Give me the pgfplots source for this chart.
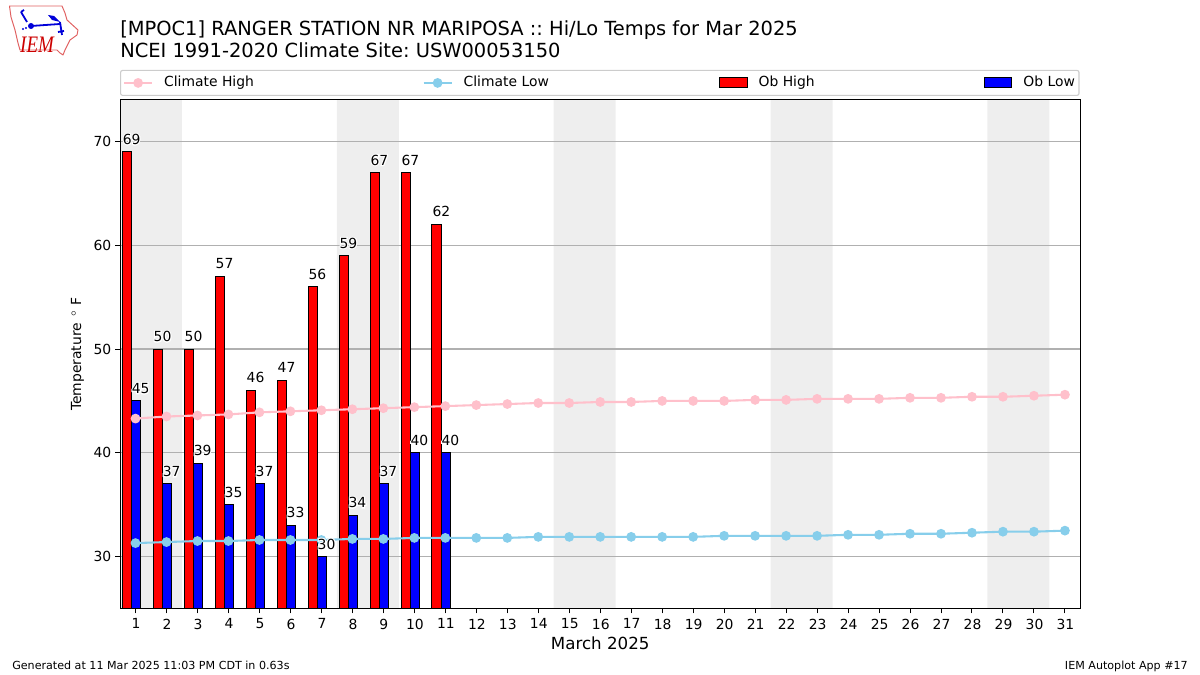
\documentclass[border=0pt]{standalone}
\usepackage{fontspec}
\setmainfont{DejaVu Sans}
\newfontfamily\logofont{Liberation Serif}
\usepackage{pgfplots}
\usepackage{pgfplotstable}
\pgfplotsset{compat=1.18}
\frenchspacing
\definecolor{band}{HTML}{EEEEEE}
\definecolor{gridc}{HTML}{B0B0B0}
\definecolor{legc}{HTML}{CCCCCC}
\definecolor{pinkc}{HTML}{FFC0CB}
\definecolor{skyc}{HTML}{87CEEB}
\definecolor{logor}{HTML}{E06060}
\newcommand{\hl}[1]{\leavevmode\rlap{\special{pdf:code 2 Tr 1 1 1 RG 1.6 w}\textcolor{white}{#1}\special{pdf:code 0 Tr 0 0 0 RG 0.4 w}}#1}
\pgfplotstableread{
day hi
1 69
2 50
3 50
4 57
5 46
6 47
7 56
8 59
9 67
10 67
11 62
}\obhigh
\pgfplotstableread{
day lo
1 45
2 37
3 39
4 35
5 37
6 33
7 30
8 34
9 37
10 40
11 40
}\oblow
\pgfplotstableread{
day hi lo
1 43.3 31.3
2 43.5 31.4
3 43.6 31.5
4 43.7 31.5
5 43.9 31.6
6 44.0 31.6
7 44.1 31.6
8 44.2 31.7
9 44.3 31.7
10 44.4 31.8
11 44.5 31.8
12 44.6 31.8
13 44.7 31.8
14 44.8 31.9
15 44.8 31.9
16 44.9 31.9
17 44.9 31.9
18 45.0 31.9
19 45.0 31.9
20 45.0 32.0
21 45.1 32.0
22 45.1 32.0
23 45.2 32.0
24 45.2 32.1
25 45.2 32.1
26 45.3 32.2
27 45.3 32.2
28 45.4 32.3
29 45.4 32.4
30 45.5 32.4
31 45.6 32.5
}\climate
\pgfplotsset{
  layers/chart/.define layer set={axis background,axis grid,main,axis ticks,axis lines,axis tick labels,axis descriptions,axis foreground}{},
  lineleg/.style={legend image code/.code={\draw[mark repeat=2,mark phase=2,sharp corners,##1] plot coordinates {(0bp,0bp)(10bp,0bp)(20bp,0bp)};}},
  barleg/.style={legend image code/.code={\draw[sharp corners,##1] (0bp,-3.6bp) rectangle (20bp,3.6bp);}},
  climstyle/.style={#1,line width=1.5bp,mark=*,mark size=3bp,mark options={draw=#1,fill=#1,line width=1bp}},
}
\begin{document}
\begin{tikzpicture}
\path (0bp,0bp) rectangle (864bp,486bp);
\begin{axis}[
  at={(86.4bp,47.9bp)}, anchor=south west,
  scale only axis, width=691.5bp, height=366.1bp,
  set layers=chart,
  xmin=0.5, xmax=31.5, ymin=25, ymax=74,
  xtick={1,...,31}, ytick={30,40,50,60,70},
  tick align=outside, tick pos=left, major tick length=3.5bp,
  tick style={black,line width=0.72bp},
  axis line style={line width=0.72bp},
  ymajorgrids, grid style={gridc,line width=0.8bp},
  /pgf/number format/assume math mode=true,
  ticklabel style={font=\fontsize{10bp}{12bp}\selectfont},
  x tick label style={inner sep=0pt,yshift=-3.7bp,xshift=0.4bp},
  y tick label style={inner sep=0pt,xshift=-2.6bp},
  xlabel={March 2025},
  xlabel style={font=\fontsize{12bp}{14bp}\selectfont,inner sep=0pt,anchor=base,at={(axis description cs:0.5,0)},yshift=-29.5bp},
  ylabel={Temperature\hspace{1.5bp}\ $^\circ\,$\hspace{1.5bp}F},
  ylabel style={font=\fontsize{10bp}{12bp}\selectfont,inner sep=0pt,anchor=base,at={(axis description cs:0,0.5)},yshift=28bp},
  legend columns=4,
  legend cell align=left,
  legend style={
    at={(axis description cs:0,1)}, anchor=south west, yshift=2.9bp,
    draw=legc, rounded corners=1.5bp, line width=0.8bp,
    font=\fontsize{10bp}{12bp}\selectfont,
    inner xsep=1.9bp, inner ysep=3.2bp,
    nodes={inner sep=1bp,text depth=2bp},
    /tikz/column 1/.style={column sep=7bp},
    /tikz/column 3/.style={column sep=7bp},
    /tikz/column 5/.style={column sep=7bp},
    /tikz/column 7/.style={column sep=7bp},
    /tikz/column 2/.style={column sep=120.5bp},
    /tikz/column 4/.style={column sep=121.3bp},
    /tikz/column 6/.style={column sep=120.6bp},
  },
]
% weekend bands
\addplot[on layer=axis background,fill=band,draw=none,forget plot] coordinates {(0.5,25)(2.5,25)(2.5,74)(0.5,74)(0.5,25)};
\addplot[on layer=axis background,fill=band,draw=none,forget plot] coordinates {(7.5,25)(9.5,25)(9.5,74)(7.5,74)(7.5,25)};
\addplot[on layer=axis background,fill=band,draw=none,forget plot] coordinates {(14.5,25)(16.5,25)(16.5,74)(14.5,74)(14.5,25)};
\addplot[on layer=axis background,fill=band,draw=none,forget plot] coordinates {(21.5,25)(23.5,25)(23.5,74)(21.5,74)(21.5,25)};
\addplot[on layer=axis background,fill=band,draw=none,forget plot] coordinates {(28.5,25)(30.5,25)(30.5,74)(28.5,74)(28.5,25)};
% legend
\addlegendimage{lineleg,climstyle=pinkc}
\addlegendentry{Climate High}
\addlegendimage{lineleg,climstyle=skyc}
\addlegendentry{Climate Low}
\addlegendimage{barleg,fill=red,draw=black,line width=0.72bp}
\addlegendentry{Ob High}
\addlegendimage{barleg,fill=blue,draw=black,line width=0.72bp}
\addlegendentry{Ob Low\hspace{2.1bp}}
% bars
\addplot[forget plot,ybar,bar width=0.3,bar shift=-0.28,fill=red,draw=black,line width=0.72bp] table[x=day,y=hi] {\obhigh};
\addplot[forget plot,ybar,bar width=0.3,bar shift=0.02,fill=blue,draw=black,line width=0.72bp] table[x=day,y=lo] {\oblow};
% climatology
\addplot[forget plot,climstyle=pinkc] table[x=day,y=hi] {\climate};
\addplot[forget plot,climstyle=skyc] table[x=day,y=lo] {\climate};
% value labels
\addplot[forget plot,ybar,bar width=0.3,bar shift=-0.28,draw=none,fill=none,
  nodes near coords={\hl{\pgfmathprintnumber{\pgfplotspointmeta}}},
  every node near coord/.style={black,font=\fontsize{10bp}{12bp}\selectfont,inner sep=0pt,anchor=south,xshift=-2.8bp,yshift=5.1bp}]
  table[x=day,y=hi] {\obhigh};
\addplot[forget plot,ybar,bar width=0.3,bar shift=0.02,draw=none,fill=none,
  nodes near coords={\hl{\pgfmathprintnumber{\pgfplotspointmeta}}},
  every node near coord/.style={black,font=\fontsize{10bp}{12bp}\selectfont,inner sep=0pt,anchor=south,xshift=3.7bp,yshift=5.1bp}]
  table[x=day,y=lo] {\oblow};
\end{axis}
\begin{scope}[shift={(0bp,486bp)},x=0.72bp,y=-0.72bp]
% titles
\node[anchor=base west,inner sep=0pt,font=\fontsize{14bp}{16bp}\selectfont] at (120,36) {[MPOC1] RANGER STATION NR MARIPOSA :: Hi/Lo Temps for Mar 2025};
\node[anchor=base west,inner sep=0pt,font=\fontsize{14bp}{16bp}\selectfont] at (120,58) {NCEI 1991-2020 Climate Site: USW00053150};
% footers
\node[anchor=base west,inner sep=0pt,font=\fontsize{8bp}{10bp}\selectfont] at (12,670) {Generated at 11 Mar 2025 11:03 PM CDT in 0.63s};
\node[anchor=base east,inner sep=0pt,font=\fontsize{8bp}{10bp}\selectfont] at (1188,670) {IEM Autoplot App \#17};
% logo
\draw[logor,line width=0.7bp,line join=round] (9.5,6) -- (62,6) -- (65,13) -- (67,20) -- (78,30) -- (77,35) -- (70,40) -- (65,50) -- (63,55) -- (60,53) -- (57,50) -- (20,50) -- (18,43) -- (15,30) -- (11,17) -- cycle;
\draw[blue!85!black,line width=1.3bp] (31,26) -- (60,24) (60,22) -- (62,35) (21,12) -- (27,22) (21,12)--(24,10) (58,32)--(64,31);
\fill[blue!85!black] (31,26) circle (3);
\fill[blue!85!black] (48,15) -- (54,16) -- (60,22) -- (52,20) -- cycle;
\fill[blue!85!black] (23,29) circle (1.2) (26,28) circle (1.2);
\node[anchor=center,inner sep=0pt,text=red!80!black,xscale=0.8,font=\fontsize{17bp}{18bp}\logofont\itshape] at (37,45) {IEM};
\end{scope}
\useasboundingbox (0bp,0bp) rectangle (864bp,486bp);
\end{tikzpicture}
\end{document}
